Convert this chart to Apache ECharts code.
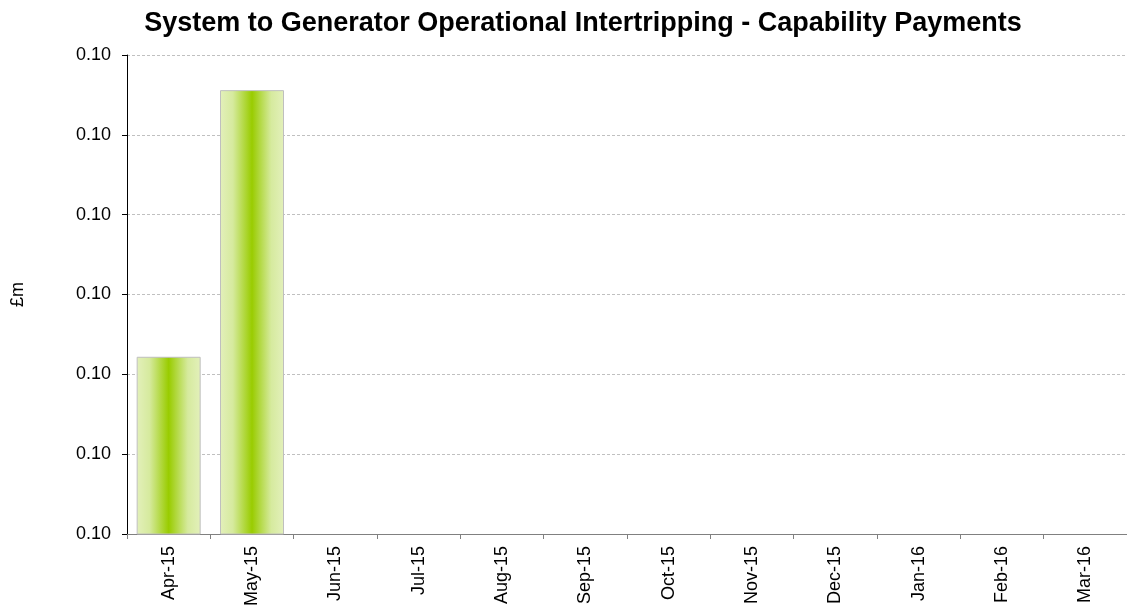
<!DOCTYPE html>
<html>
<head>
<meta charset="utf-8">
<script src="https://cdn.jsdelivr.net/npm/echarts@6/dist/echarts.min.js"></script>
<style>
  html, body { margin: 0; padding: 0; background: #ffffff; }
  #chart { width: 1127px; height: 614px; }
</style>
</head>
<body>
<div id="chart"></div>
<script>
// months on the x axis
const months = ["Apr-15", "May-15", "Jun-15", "Jul-15", "Aug-15", "Sep-15",
  "Oct-15", "Nov-15", "Dec-15", "Jan-16", "Feb-16", "Mar-16"]

// capability payments, £m (only the first two months have a value)
const payments = [0.10011, 0.10178, null, null, null, null, null, null, null, null, null, null]

// y axis range, labels are rounded to 2 places so they all read 0.10
const yMin = 0.0990
const yMax = 0.1020
const yStep = 0.0005

const chart = echarts.init(document.getElementById("chart"), null, { renderer: "canvas" })

// green bar fill, light at the edges and strong in the middle
const barFill = new echarts.graphic.LinearGradient(0, 0, 1, 0, [
  { offset: 0, color: "#e3f0bb" },
  { offset: 0.2, color: "#d6ea9e" },
  { offset: 0.5, color: "#99cc00" },
  { offset: 0.8, color: "#d6ea9e" },
  { offset: 1, color: "#e3f0bb" }
])

const option = {
  backgroundColor: "#ffffff",
  animation: false,
  title: {
    text: "System to Generator Operational Intertripping - Capability Payments",
    left: 578,
    textAlign: "center",
    top: 5,
    textStyle: {
      fontFamily: "Liberation Sans, Arial",
      fontSize: 27,
      fontWeight: "bold",
      color: "#000000"
    }
  },
  grid: {
    left: 127,
    right: 0,
    top: 55,
    bottom: 80,
    containLabel: false
  },
  xAxis: {
    type: "category",
    data: months,
    boundaryGap: true,
    axisLine: { show: true, lineStyle: { color: "#808080", width: 1 } },
    axisTick: { show: true, inside: false, length: 5, lineStyle: { color: "#808080" } },
    axisLabel: {
      rotate: 90,
      interval: 0,
      margin: 12,
      fontFamily: "Liberation Sans, Arial",
      fontSize: 18,
      color: "#000000"
    },
    splitLine: { show: false }
  },
  yAxis: {
    type: "value",
    min: yMin,
    max: yMax,
    interval: yStep,
    name: "£m",
    nameLocation: "middle",
    nameRotate: 90,
    nameGap: 100,
    nameTextStyle: {
      fontFamily: "Liberation Sans, Arial",
      fontSize: 18,
      color: "#000000"
    },
    axisLine: { show: true, lineStyle: { color: "#000000", width: 1 } },
    axisTick: { show: true, inside: false, length: 5, lineStyle: { color: "#000000" } },
    axisLabel: {
      margin: 16,
      fontFamily: "Liberation Sans, Arial",
      fontSize: 18,
      color: "#000000",
      formatter: (v) => v.toFixed(2)
    },
    splitLine: {
      show: true,
      lineStyle: { color: "#c0c0c0", type: [3, 2], width: 1 }
    }
  },
  series: [
    {
      type: "bar",
      data: payments,
      barWidth: 64,
      clip: true,
      itemStyle: {
        color: barFill,
        borderColor: "#bfbfbf",
        borderWidth: 1
      }
    }
  ]
}

chart.setOption(option)
</script>
</body>
</html>
